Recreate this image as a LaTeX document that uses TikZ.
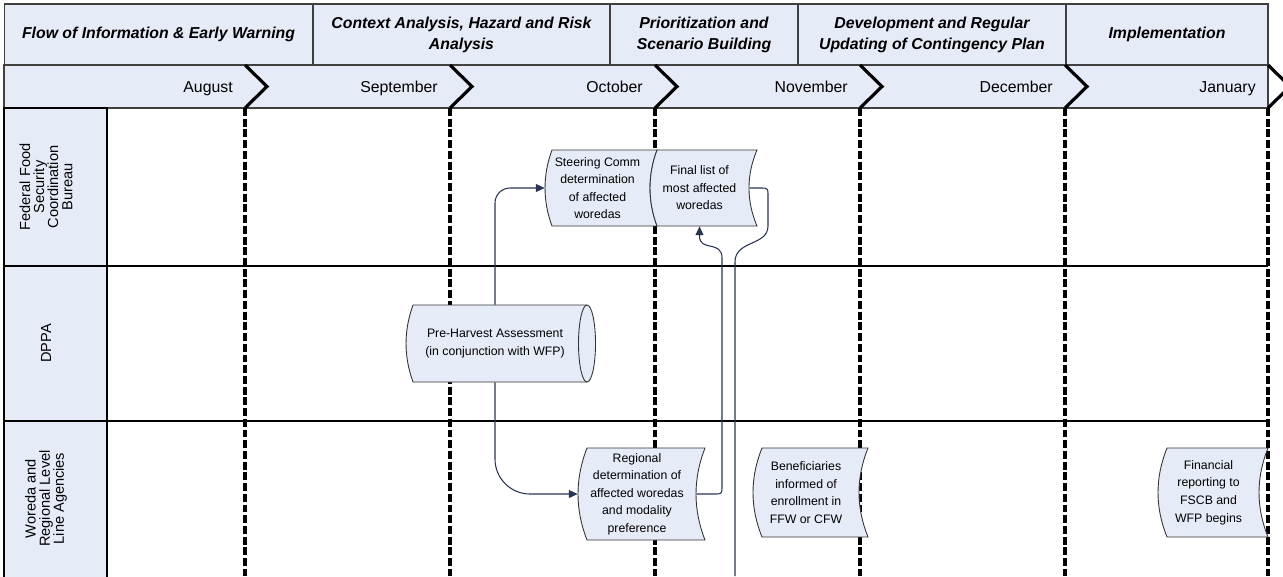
\documentclass[tikz,border=0pt]{standalone}
\usepackage{fontspec}
\setmainfont{Liberation Sans}
\usetikzlibrary{arrows.meta}
\definecolor{laneblue}{RGB}{230,236,247}
\definecolor{linkblue}{RGB}{40,52,84}

\begin{document}
\begin{tikzpicture}[x=0.02cm, y=-0.02cm,
  phase/.style={draw=black!75, fill=laneblue, line width=0.6pt, minimum height=1.22cm, inner sep=0pt, align=center, font=\fontsize{9}{12}\selectfont\bfseries\itshape},
  month/.style={anchor=base east, inner sep=0pt, font=\fontsize{9}{11}\selectfont},
  lanetext/.style={rotate=90, align=center, inner sep=0pt, font=\fontsize{8.3}{8}\selectfont},
  tapebox/.style={draw=black!80, fill=laneblue, line width=0.5pt},
  boxtext/.style={inner sep=0pt, align=center, font=\fontsize{7}{10}\selectfont},
  chev/.style={line width=1.8pt, line join=miter},
  period/.style={line width=2pt, dash pattern=on 4.5pt off 1.6pt},
  conn/.style={draw=linkblue, line width=0.6pt},
  arr/.style={-{Triangle[length=5pt,width=4.5pt]}}
]
\useasboundingbox (0,0) rectangle (1283,576);
\clip (0,0) rectangle (1283,576);

\node[phase, minimum width=6.18cm] (flow) at (158.5,34.5) {Flow of Information \& Early Warning};
\node[phase, minimum width=5.94cm] (context) at (461.5,34.5) {Context Analysis, Hazard and Risk\\Analysis};
\node[phase, minimum width=3.76cm] (prior) at (704,34.5) {Prioritization and\\Scenario Building};
\node[phase, minimum width=5.36cm] (develop) at (932,34.5) {Development and Regular\\Updating of Contingency Plan};
\node[phase, minimum width=4.04cm] (implement) at (1167,34.5) {Implementation};

\draw[draw=black!75, fill=laneblue, line width=0.6pt] (4,65) rectangle (1268,108);
\node[month] (aug) at (233,92.5) {August};
\node[month] (sep) at (438,92.5) {September};
\node[month] (oct) at (643,92.5) {October};
\node[month] (nov) at (848,92.5) {November};
\node[month] (dec) at (1053,92.5) {December};
\node[month] (jan) at (1256,92.5) {January};
\draw[chev] (245,65) -- (267,86.5) -- (245,108);
\draw[chev] (450,65) -- (472,86.5) -- (450,108);
\draw[chev] (655,65) -- (677,86.5) -- (655,108);
\draw[chev] (860,65) -- (882,86.5) -- (860,108);
\draw[chev] (1065,65) -- (1087,86.5) -- (1065,108);
\draw[chev] (1268,65) -- (1290,86.5) -- (1268,108);

\draw[line width=0.6pt, fill=laneblue] (4,108) rectangle (107,580);
\draw[line width=0.6pt] (4,266) -- (1268,266);
\draw[line width=0.6pt] (4,421) -- (1268,421);
\node[lanetext] (ffscb) at (46,187) {Federal Food\\Security\\Coordination\\Bureau};
\node[lanetext] (dppa) at (46,343.5) {DPPA};
\node[lanetext] (woreda) at (46,498.5) {Woreda and\\Regional Level\\Line Agencies};

\draw[period] (245,108) -- (245,576);
\draw[period] (450,108) -- (450,576);
\draw[period] (655,108) -- (655,576);
\draw[period] (860,108) -- (860,576);
\draw[period] (1065,108) -- (1065,576);
\draw[period] (1268,108) -- (1268,576);

\filldraw[tapebox] (552,150) -- (657,150) .. controls (647.7,175) and (647.7,201) .. (657,226) -- (552,226) .. controls (542.7,201) and (542.7,175) .. (552,150) -- cycle;
\node[boxtext, minimum width=2.1cm, minimum height=1.52cm] (steer) at (597.5,188) {Steering Comm\\determination\\of affected\\woredas};
\filldraw[tapebox] (657,150) -- (757,150) .. controls (746.3,175) and (746.3,201) .. (757,226) -- (657,226) .. controls (647.7,201) and (647.7,175) .. (657,150) -- cycle;
\node[boxtext, minimum width=1.98cm, minimum height=1.52cm] (final) at (699.5,188) {Final list of\\most affected\\woredas};

\filldraw[tapebox] (413,305) -- (587,305) .. controls (591.7,305) and (595.5,322.2) .. (595.5,343.5) .. controls (595.5,364.8) and (591.7,382) .. (587,382) -- (413,382) .. controls (403.7,356.3) and (403.7,330.7) .. (413,305) -- cycle;
\draw[tapebox, fill=none] (587,305) .. controls (582.3,305) and (578.5,322.2) .. (578.5,343.5) .. controls (578.5,364.8) and (582.3,382) .. (587,382);
\node[boxtext, minimum width=3.56cm, minimum height=1.54cm] (pre) at (495,343.5) {Pre-Harvest Assessment\\(in conjunction with WFP)};

\filldraw[tapebox] (587,448) -- (705,448) .. controls (693,478.7) and (693,509.3) .. (705,540) -- (587,540) .. controls (575,509.3) and (575,478.7) .. (587,448) -- cycle;
\node[boxtext, minimum width=2.36cm, minimum height=1.84cm] (reg) at (637,494) {Regional\\determination of\\affected woredas\\and modality\\preference};

\filldraw[tapebox] (762,448) -- (868,448) .. controls (856,477.7) and (856,507.3) .. (868,537) -- (762,537) .. controls (750,507.3) and (750,477.7) .. (762,448) -- cycle;
\node[boxtext, minimum width=2.12cm, minimum height=1.78cm] (benef) at (806,492.5) {Beneficiaries\\informed of\\enrollment in\\FFW or CFW};

\filldraw[tapebox] (1167,448) -- (1268,448) .. controls (1256,477.7) and (1256,507.3) .. (1268,537) -- (1167,537) .. controls (1155,507.3) and (1155,477.7) .. (1167,448) -- cycle;
\node[boxtext, minimum width=2.02cm, minimum height=1.78cm] (finrep) at (1208.5,492.5) {Financial\\reporting to\\FSCB and\\WFP begins};

\coordinate (down) at (735,576);
\draw[conn, arr, rounded corners=0.3cm] (pre.north) |- (steer.west);
\draw[conn, arr, rounded corners=0.7cm] (pre.south) |- (reg.west);
\draw[conn] (final.east) -- (760,188) .. controls (768,188) .. (768,196) -- (768,226) .. controls (768,246) and (735,240) .. (735,262) -- (down);
\draw[conn, arr] (reg.east) -- (714,494) .. controls (722,494) .. (722,486) -- (722,258) .. controls (722,240) and (699.5,252) .. (699.5,236) -- (final.south);
\end{tikzpicture}
\end{document}
